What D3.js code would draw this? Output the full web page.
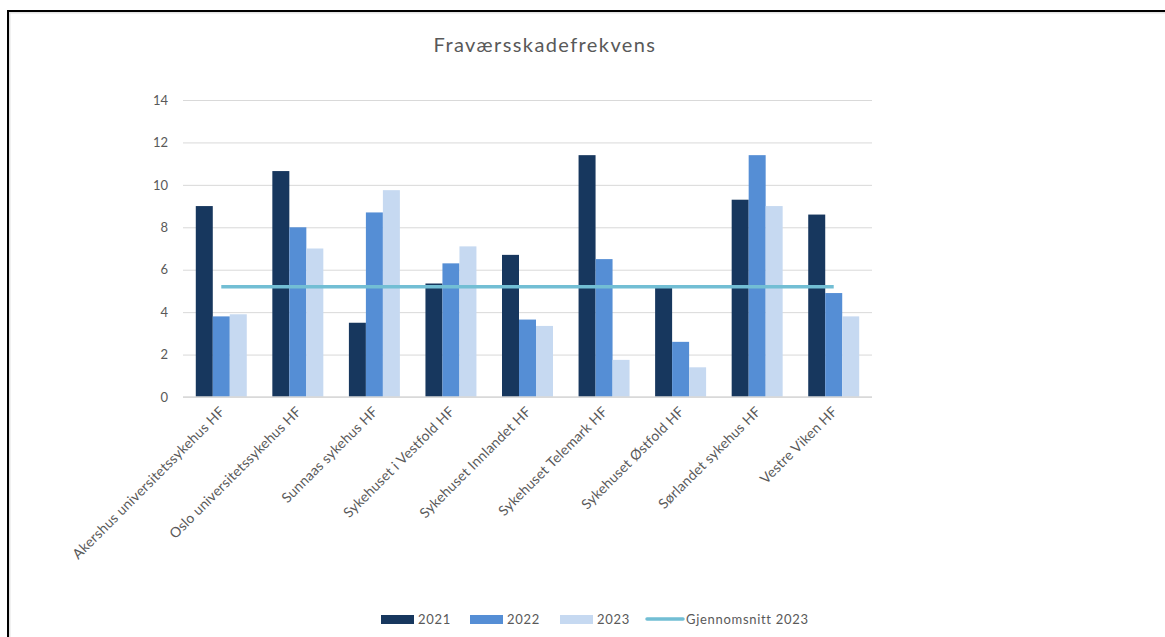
<!DOCTYPE html>
<html>
<head>
<meta charset="utf-8">
<script src="https://cdn.jsdelivr.net/npm/d3@7"></script>
<style>
  body { margin: 0; background: #fff; }
  svg { display: block; font-family: Lato, "Open Sans", sans-serif; }
</style>
</head>
<body>
<svg id="chart"></svg>
<script>
const categories = [
  "Akershus universitetssykehus HF",
  "Oslo universitetssykehus HF",
  "Sunnaas sykehus HF",
  "Sykehuset i Vestfold HF",
  "Sykehuset Innlandet HF",
  "Sykehuset Telemark HF",
  "Sykehuset Østfold HF",
  "Sørlandet sykehus HF",
  "Vestre Viken HF"
];
const years = ["2021", "2022", "2023"];
const values2021 = [9.0, 10.65, 3.5, 5.35, 6.7, 11.4, 5.2, 9.3, 8.6];
const values2022 = [3.8, 8.0, 8.7, 6.3, 3.65, 6.5, 2.6, 11.4, 4.9];
const values2023 = [3.9, 7.0, 9.75, 7.1, 3.35, 1.75, 1.4, 9.0, 3.8];
const average2023 = 5.2;
const yTicks = [0, 2, 4, 6, 8, 10, 12, 14];

const colors = { "2021": "#17375e", "2022": "#558ed5", "2023": "#c6d9f1" };
const lineColor = "#72bed4";
const textColor = "#595959";

const width = 1165, height = 637;
const svg = d3.select("#chart").attr("width", width).attr("height", height);

// outer frame
svg.append("rect").attr("x", 9.5).attr("y", 12.5).attr("width", 1200).attr("height", 700)
  .attr("fill", "none").attr("stroke", "#e3e3e3").attr("stroke-width", 2);
svg.append("rect").attr("x", 8).attr("y", 11).attr("width", 1200).attr("height", 700)
  .attr("fill", "none").attr("stroke", "#000").attr("stroke-width", 2);

const rows = categories.map((c, i) => ({ cat: c, "2021": values2021[i], "2022": values2022[i], "2023": values2023[i] }));

const x = d3.scaleBand().domain(categories).range([183, 872]).paddingInner(0.334).paddingOuter(0.167);
const xs = d3.scaleBand().domain(years).range([0, x.bandwidth()]);
const y = d3.scaleLinear().domain([0, 14]).range([397, 100]);

// title
svg.append("text").attr("x", 545).attr("y", 52).attr("text-anchor", "middle")
  .attr("fill", textColor).attr("font-size", 20).attr("letter-spacing", 1.4)
  .text("Fraværsskadefrekvens");

// gridlines + y labels
const yAxis = d3.axisLeft(y).tickValues(yTicks).tickSize(-(872 - 183)).tickPadding(15);
const gy = svg.append("g").attr("transform", "translate(183,0)").call(yAxis);
gy.select(".domain").remove();
gy.selectAll(".tick line").attr("stroke", "#d9d9d9").attr("stroke-width", 1);
gy.selectAll(".tick text").attr("fill", textColor).attr("font-size", 13).attr("font-family", "Lato, sans-serif");

// bars
const groups = svg.append("g").selectAll("g").data(rows).join("g")
  .attr("transform", d => `translate(${x(d.cat)},0)`);
groups.selectAll("rect").data(d => years.map(k => ({ key: k, value: d[k] }))).join("rect")
  .attr("x", d => xs(d.key))
  .attr("width", xs.bandwidth())
  .attr("y", d => y(d.value))
  .attr("height", d => y(0) - y(d.value))
  .attr("fill", d => colors[d.key]);

// baseline
svg.append("line").attr("x1", 183).attr("x2", 872).attr("y1", y(0)).attr("y2", y(0))
  .attr("stroke", "#d9d9d9").attr("stroke-width", 1.5);

// average line
const avgLine = d3.line().x(d => x(d) + x.bandwidth() / 2).y(() => y(average2023));
svg.append("path").datum(categories).attr("d", avgLine)
  .attr("fill", "none").attr("stroke", lineColor).attr("stroke-width", 3.5);

// x labels
const xAxis = d3.axisBottom(x).tickSize(0).tickPadding(0);
const gx = svg.append("g").attr("transform", `translate(0,${y(0)})`).call(xAxis);
gx.select(".domain").remove();
gx.selectAll(".tick text")
  .attr("fill", textColor).attr("font-size", 14).attr("font-family", "Lato, sans-serif")
  .attr("letter-spacing", 0.2)
  .attr("text-anchor", "end")
  .attr("transform", "translate(1,12) rotate(-45)")
  .attr("dy", "0.35em").attr("y", 0);

// legend
const legendItems = [
  { label: "2021", color: colors["2021"], type: "rect", x: 381 },
  { label: "2022", color: colors["2022"], type: "rect", x: 470 },
  { label: "2023", color: colors["2023"], type: "rect", x: 560 },
  { label: "Gjennomsnitt 2023", color: lineColor, type: "line", x: 647 }
];
const lg = svg.append("g").selectAll("g").data(legendItems).join("g")
  .attr("transform", d => `translate(${d.x},619)`);
lg.filter(d => d.type === "rect").append("rect")
  .attr("x", 0).attr("y", -4).attr("width", 33).attr("height", 9).attr("fill", d => d.color);
lg.filter(d => d.type === "line").append("line")
  .attr("x1", 0).attr("x2", 36).attr("y1", 0).attr("y2", 0)
  .attr("stroke", d => d.color).attr("stroke-width", 3.5).attr("stroke-linecap", "round");
lg.append("text").attr("x", d => d.type === "line" ? 39 : 37).attr("y", 0).attr("dy", "0.35em")
  .attr("fill", textColor).attr("font-size", 13).attr("letter-spacing", 0.7).text(d => d.label);
</script>
</body>
</html>
